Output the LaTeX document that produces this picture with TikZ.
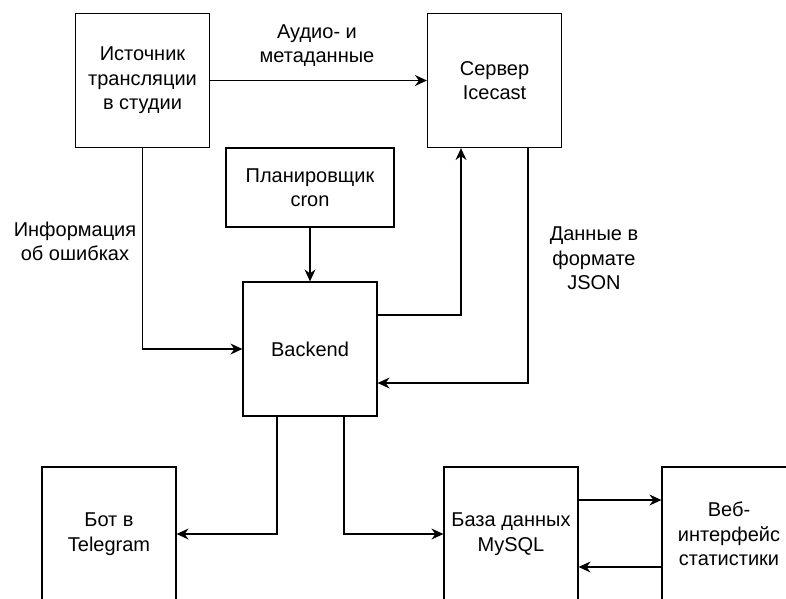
\documentclass[tikz,border=0pt]{standalone}
\usepackage{fontspec}
\setmainfont{Liberation Sans}
\usetikzlibrary{arrows.meta}
\begin{document}
\begin{tikzpicture}[x=1pt,y=-1pt,
  box/.style={draw=black,line width=1.2pt,minimum width=134pt,minimum height=134pt,inner sep=0pt,align=center,font=\fontsize{20}{24.5}\selectfont},
  lbl/.style={align=center,inner sep=0pt,font=\fontsize{20}{24.5}\selectfont},
  conn/.style={draw=black,line width=1.2pt,-{Stealth[length=12pt,width=11pt,inset=4pt]}}]
\useasboundingbox (0,0) rectangle (786,598);
\begin{scope}
\clip (0,0) rectangle (786,598);
\node[box] (source) at (142.5,80.5) {Источник\\трансляции\\в студии};
\node[box] (icecast) at (494.5,80.5) {Сервер\\Icecast};
\node[box,minimum width=168pt,minimum height=79pt] (cron) at (310,187.5) {Планировщик\\cron};
\node[box] (backend) at (310,349) {Backend};
\node[box] (bot) at (109,534) {Бот в\\Telegram};
\node[box] (mysql) at (511,534) {База данных\\MySQL};
\node[box] (web) at (729,534) {Веб-\\интерфейс\\статистики};

\node[lbl] (l1) at (317,45.5) {Аудио- и\\метаданные};
\node[lbl] (l2) at (75,241.5) {Информация\\об ошибках};
\node[lbl] (l3) at (594,258.5) {Данные в\\формате\\JSON};

\draw[conn] (source.east) -- (icecast.west);
\draw[conn] (source.south) |- (backend.west);
\draw[conn] (cron.south) -- (backend.north);
\draw[conn] ([yshift=34pt]backend.east) -| ([xshift=-33.5pt]icecast.south);
\draw[conn] ([xshift=33.5pt]icecast.south) |- ([yshift=-34pt]backend.east);
\draw[conn] ([xshift=-33pt]backend.south) |- (bot.east);
\draw[conn] ([xshift=34pt]backend.south) |- (mysql.west);
\draw[conn] ([yshift=34pt]mysql.east) -- ([yshift=34pt]web.west);
\draw[conn] ([yshift=-33pt]web.west) -- ([yshift=-33pt]mysql.east);
\end{scope}
\end{tikzpicture}
\end{document}
